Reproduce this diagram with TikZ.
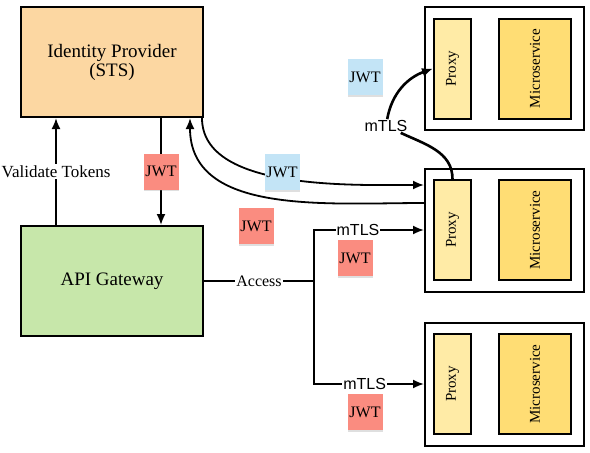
\documentclass[tikz,border=0pt]{standalone}
\usepackage{fontspec}
\usepackage{graphicx}
\setmainfont{Liberation Serif}
\setsansfont{Liberation Sans}
\usetikzlibrary{arrows.meta,shadows}
\definecolor{idpfill}{HTML}{FCD7A2}
\definecolor{gwfill}{HTML}{C7E7AA}
\definecolor{proxyfill}{HTML}{FFEBA6}
\definecolor{msfill}{HTML}{FFDD74}
\definecolor{jwtred}{HTML}{FA8C80}
\definecolor{jwtblue}{HTML}{C3E4F6}
\newcommand{\vtext}[1]{\rotatebox{90}{#1}}

\begin{document}
\begin{tikzpicture}[x=1pt, y=-1pt, >={Latex[length=11pt, width=9pt]},
    box/.style={draw, line width=2pt, inner sep=0pt},
    note/.style={minimum width=35pt, minimum height=36pt, inner sep=0pt,
      font=\fontsize{16}{16}\selectfont,
      drop shadow={opacity=0.25, shadow xshift=0.5pt, shadow yshift=-1.5pt}},
    lbl/.style={fill=white, inner sep=1pt, font=\fontsize{16}{16}\selectfont},
    tls/.style={fill=white, inner sep=1pt, font=\sffamily\fontsize{16}{16}\selectfont},
    wire/.style={line width=1.8pt}]
  \useasboundingbox (0,0) rectangle (590,453);

  \node[box, fill=idpfill, minimum width=182pt, minimum height=110pt, align=center,
    font=\fontsize{19}{19}\selectfont] (IdP) at (112,62) {Identity Provider\\(STS)};
  \node[box, fill=gwfill, minimum width=182pt, minimum height=110pt,
    font=\fontsize{19}{19}\selectfont] (GW) at (112,281) {API Gateway};

  \foreach \i/\y in {1/68.5, 2/230, 3/384} {
    \node[box, fill=white, minimum width=159pt, minimum height=123pt] (S\i) at (504.5,\y) {};
    \node[box, fill=proxyfill, minimum width=37pt, minimum height=100pt,
      font=\fontsize{15}{15}\selectfont] (P\i) at (452.5,\y) {\vtext{Proxy}};
    \node[box, fill=msfill, minimum width=72pt, minimum height=100pt,
      font=\fontsize{15}{15}\selectfont] (M\i) at (535,\y) {\vtext{Microservice}};
  }

  \draw[wire, ->] ([xshift=36pt]GW.north west) -- node[lbl, font=\fontsize{17}{17}\selectfont] {Validate Tokens} ([xshift=36pt]IdP.south west);
  \draw[wire, ->] ([xshift=-43pt]IdP.south east) -- node[note, fill=jwtred] (J1) {JWT} ([xshift=-43pt]GW.north east);

  % token exchange with the proxy
  \draw[wire, ->] ([xshift=-2pt]IdP.south east) to[out=-90, in=180, looseness=0.8] ([yshift=45pt]S2.west);
  \draw[wire, ->] ([yshift=27pt]S2.west) to[out=180, in=-90] ([xshift=-14pt]IdP.south east);

  % proxy to proxy
  \node[tls] (T1) at (386,126) {mTLS};
  \draw[line width=2.6pt] (P2.north) to[out=90, in=-25] (T1);
  \draw[line width=2.6pt, ->] (T1) to[out=80, in=-160] (P1.west);

  % access from the gateway
  \coordinate (split) at (314,281);
  \draw[wire] (GW.east) -- node[lbl] (acc) {Access} (split);
  \draw[wire, ->] (split) |- node[tls, pos=0.7] (T2) {mTLS} (S2.west);
  \draw[wire, ->] (split) |- node[tls, pos=0.73] (T3) {mTLS} (S3.west);

  \node[note, fill=jwtblue] (J2) at (282,172) {JWT};
  \node[note, fill=jwtred] (J3) at (256,226) {JWT};
  \node[note, fill=jwtred] (J4) at (355,258) {JWT};
  \node[note, fill=jwtred] (J5) at (365,412) {JWT};
  \node[note, fill=jwtblue] (J6) at (365,77) {JWT};
\end{tikzpicture}
\end{document}
